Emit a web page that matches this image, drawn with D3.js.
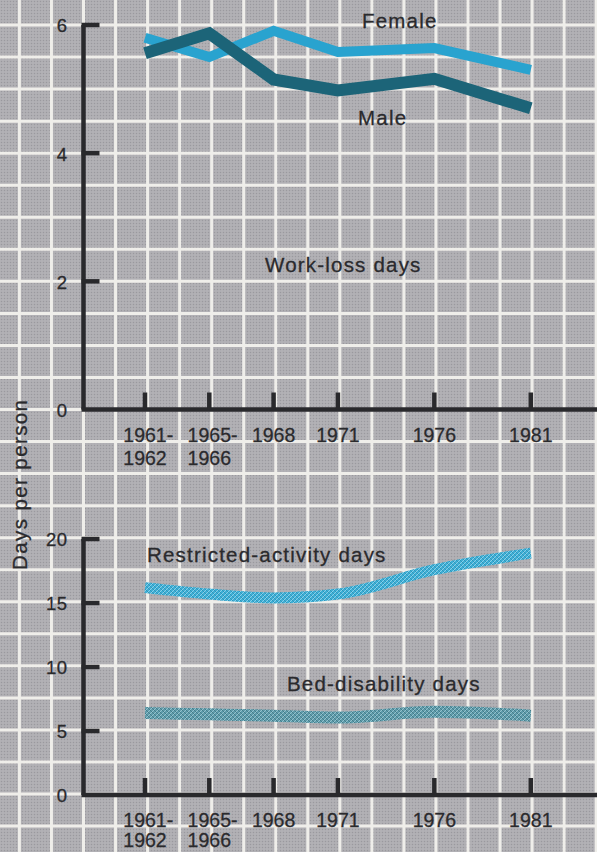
<!DOCTYPE html>
<html>
<head>
<meta charset="utf-8">
<script src="https://cdn.jsdelivr.net/npm/d3@7"></script>
<style>
  html, body { margin: 0; padding: 0; background: #a9a8ab; }
  svg { display: block; }
  text { font-family: "Liberation Sans", Arial, Helvetica, sans-serif; fill: #2a2a2d; stroke: #2a2a2d; stroke-width: 0.3px; }
</style>
</head>
<body>
<div id="chart"></div>
<script>
// ---------- data ----------
const periods = ["1961-1962", "1965-1966", "1968", "1971", "1976", "1981"];
const periodYear = [1961.5, 1965.5, 1968, 1971, 1976, 1981];

const workLossFemale = [5.80, 5.50, 5.91, 5.58, 5.64, 5.30];
const workLossMale   = [5.56, 5.87, 5.15, 4.98, 5.16, 4.70];

const restrictedActivity = [16.2, 15.7, 15.4, 15.7, 17.6, 18.9];
const bedDisability      = [6.4, 6.3, 6.2, 6.05, 6.5, 6.2];

const topTicks = [0, 2, 4, 6];
const bottomTicks = [0, 5, 10, 15, 20];

// ---------- layout ----------
const W = 597, H = 852;
const axisX = 83.5;
const svg = d3.select("#chart").append("svg").attr("width", W).attr("height", H);

const step = 64.3, x0 = 145;
const x = d3.scaleLinear()
  .domain([1961.5, 1965.5, 1968, 1971, 1981])
  .range([0, 1, 2, 3, 6].map(k => x0 + k * step));

const yTop = d3.scaleLinear().domain([0, 6]).range([409.5, 25]);
const yBot = d3.scaleLinear().domain([0, 20]).range([795, 539]);

// ---------- patterns ----------
const defs = svg.append("defs");
const bg = defs.append("pattern").attr("id", "halftone")
  .attr("patternUnits", "userSpaceOnUse").attr("width", 3).attr("height", 3);
bg.append("rect").attr("width", 3).attr("height", 3).attr("fill", "#b2b1b5");
bg.append("circle").attr("cx", 1.5).attr("cy", 1.5).attr("r", 0.75).attr("fill", "#9a999e");

function hatch(id, base, light, dark) {
  const p = defs.append("pattern").attr("id", id)
    .attr("patternUnits", "userSpaceOnUse").attr("width", 4).attr("height", 4);
  p.append("rect").attr("width", 4).attr("height", 4).attr("fill", base);
  p.append("path").attr("d", "M-1,1 L1,-1 M0,4 L4,0 M3,5 L5,3")
    .attr("stroke", light).attr("stroke-width", 1);
  p.append("path").attr("d", "M-1,3 L1,5 M0,0 L4,4 M3,-1 L5,1")
    .attr("stroke", dark).attr("stroke-width", 0.8);
}
hatch("hatchR", "#3eb0d6", "#86d0ea", "#2b8db3");
hatch("hatchB", "#5f9cab", "#93c2cd", "#3e7482");

// ---------- background grid ----------
svg.append("rect").attr("width", W).attr("height", H).attr("fill", "url(#halftone)");
const gridStep = yTop(5.5) - yTop(6);
const gridG = svg.append("g").attr("stroke", "#efeeea").attr("stroke-width", 3);
d3.range(-3, 20).forEach(k => {
  const gx = axisX + k * gridStep;
  gridG.append("line").attr("x1", gx).attr("x2", gx).attr("y1", 0).attr("y2", H);
});
d3.range(-1, 27).forEach(k => {
  const gy = yTop(6) + k * gridStep;
  gridG.append("line").attr("x1", 0).attr("x2", W).attr("y1", gy).attr("y2", gy);
});

// ---------- axes ----------
function drawAxes(y, ticks, topVal) {
  const g = svg.append("g").attr("stroke", "#29292c").attr("stroke-width", 4.5).attr("fill", "none");
  g.append("line").attr("x1", axisX).attr("x2", axisX).attr("y1", y(topVal)).attr("y2", y(0));
  g.append("line").attr("x1", axisX - 2).attr("x2", W + 5).attr("y1", y(0)).attr("y2", y(0));
  ticks.filter(t => t > 0).forEach(t => {
    g.append("line").attr("x1", axisX - 2).attr("x2", axisX + 16).attr("y1", y(t)).attr("y2", y(t));
  });
  periodYear.forEach(p => {
    g.append("line").attr("x1", x(p)).attr("x2", x(p)).attr("y1", y(0)).attr("y2", y(0) - 17);
  });
  ticks.forEach(t => {
    svg.append("text").attr("x", axisX - 16).attr("y", y(t)).attr("dy", "0.4em")
      .attr("text-anchor", "end").attr("font-size", 18.5).attr("letter-spacing", 0.5)
      .text(t);
  });
  periods.forEach((lab, i) => {
    const parts = lab.split("-");
    const px = x(periodYear[i]);
    const base = y(0) + 32;
    if (parts.length === 2) {
      const t2 = svg.append("text").attr("x", px).attr("y", Math.min(base + 23, H - 5))
        .attr("text-anchor", "middle").attr("font-size", 19.5).attr("letter-spacing", 0)
        .text(parts[1]);
      const w2 = t2.node().getComputedTextLength();
      svg.append("text").attr("x", px - w2 / 2).attr("y", base)
        .attr("text-anchor", "start").attr("font-size", 19.5).attr("letter-spacing", 0)
        .text(parts[0] + "-");
    } else {
      svg.append("text").attr("x", px).attr("y", base)
        .attr("text-anchor", "middle").attr("font-size", 19.5).attr("letter-spacing", 0)
        .text(lab);
    }
  });
}
drawAxes(yTop, topTicks, 6);
drawAxes(yBot, bottomTicks, 20);

// ---------- lines ----------
const lineTop = d3.line().x((d, i) => x(periodYear[i])).y(d => yTop(d));
const lineBot = d3.line().x((d, i) => x(periodYear[i])).y(d => yBot(d)).curve(d3.curveMonotoneX);

svg.append("path").attr("d", lineTop(workLossFemale)).attr("fill", "none")
  .attr("stroke", "#29a3cf").attr("stroke-width", 10).attr("stroke-linejoin", "miter")
  .attr("stroke-miterlimit", 3);
svg.append("path").attr("d", lineTop(workLossMale)).attr("fill", "none")
  .attr("stroke", "#1c6478").attr("stroke-width", 12).attr("stroke-linejoin", "miter")
  .attr("stroke-miterlimit", 3);

svg.append("path").attr("d", lineBot(restrictedActivity)).attr("fill", "none")
  .attr("stroke", "url(#hatchR)").attr("stroke-width", 11);
svg.append("path").attr("d", lineBot(bedDisability)).attr("fill", "none")
  .attr("stroke", "url(#hatchB)").attr("stroke-width", 12);

// ---------- labels ----------
function label(txt, lx, ly) {
  svg.append("text").attr("x", lx).attr("y", ly).attr("font-size", 20.5)
    .attr("letter-spacing", 1.2).text(txt);
}
label("Female", 362, 28);
label("Male", 358, 125);
label("Work-loss days", 265, 272);
label("Restricted-activity days", 147, 562);
label("Bed-disability days", 287, 691);

svg.append("text").attr("transform", "translate(27,570) rotate(-90)")
  .attr("font-size", 20.5).attr("letter-spacing", 1.4).text("Days per person");
</script>
</body>
</html>
